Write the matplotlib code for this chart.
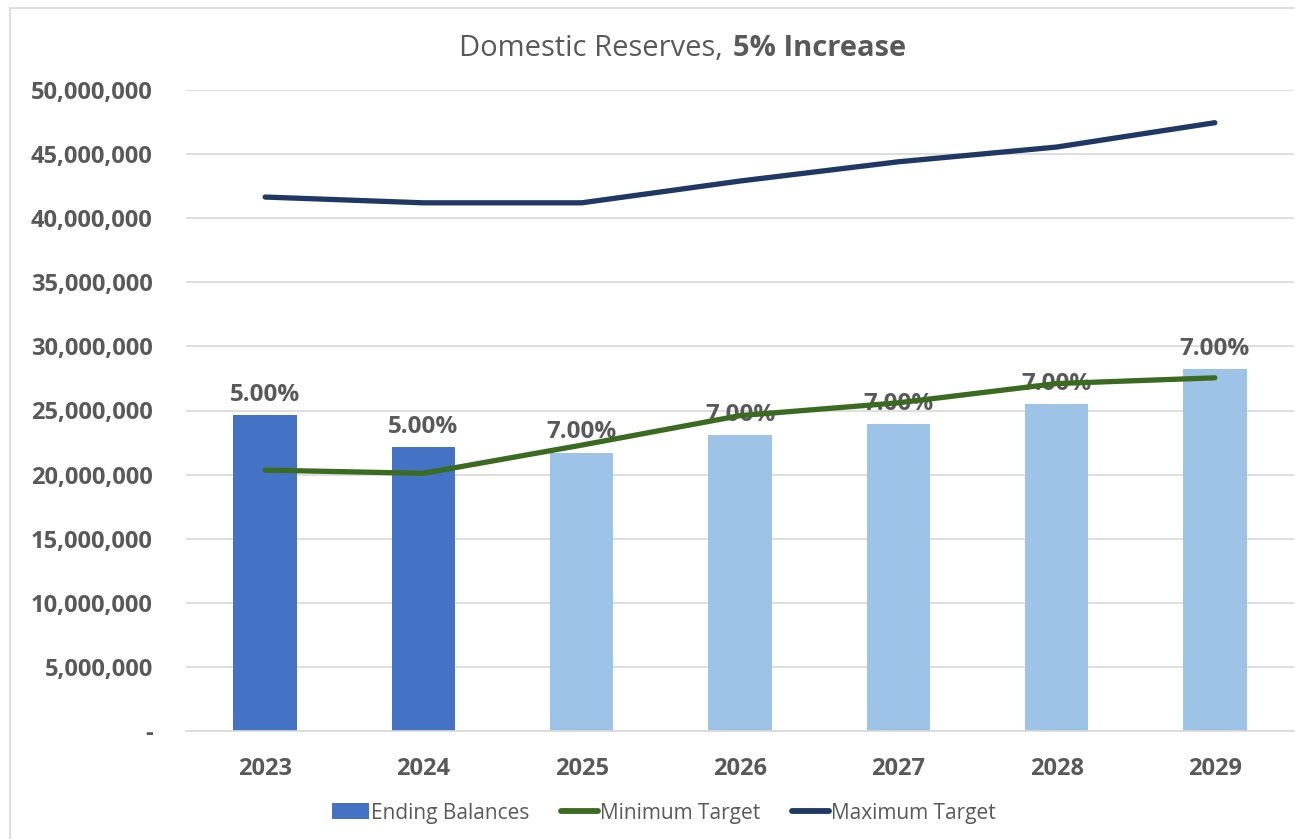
import numpy as np
import matplotlib.pyplot as plt
from matplotlib.ticker import FuncFormatter
from matplotlib.patches import Patch, Rectangle
from matplotlib.lines import Line2D

plt.rcParams['font.family'] = ['Open Sans', 'DejaVu Sans']

years = ['2023', '2024', '2025', '2026', '2027', '2028', '2029']
ending_balances = [24.65e6, 22.15e6, 21.7e6, 23.1e6, 23.95e6, 25.5e6, 28.2e6]
minimum_target = [20.35e6, 20.1e6, 22.3e6, 24.6e6, 25.6e6, 27.1e6, 27.55e6]
maximum_target = [41.65e6, 41.2e6, 41.2e6, 42.9e6, 44.4e6, 45.55e6, 47.45e6]
rate_labels = ['5.00%', '5.00%', '7.00%', '7.00%', '7.00%', '7.00%', '7.00%']
is_actual = [True, True, False, False, False, False, False]

c_dark = '#4472C4'
c_light = '#9DC3E6'
c_min = '#3B6B21'
c_max = '#1F3864'
c_text = '#595959'

fig = plt.figure(figsize=(12.95, 8.39), dpi=100)
fig.patch.set_facecolor('white')
# light chart-area border (cut off at right/bottom like the screenshot)
fig.patches.append(Rectangle((10/1295, -0.05), 1.2, 1 - 8/839 + 0.05,
                             transform=fig.transFigure, fill=False,
                             edgecolor='#d9d9d9', lw=1.2))

ax = fig.add_axes([186/1295, 108/839, 1108/1295, 641/839])
x = np.arange(len(years))
colors = [c_dark if a else c_light for a in is_actual]
ax.bar(x, ending_balances, width=0.4, color=colors, zorder=2)

for xi, v, lbl in zip(x, ending_balances, rate_labels):
    ax.annotate(lbl, (xi, v), xytext=(0, 6), textcoords='offset points',
                ha='center', va='bottom', fontsize=17.5, fontweight='bold',
                color=c_text, zorder=3)

ax.plot(x, minimum_target, color=c_min, lw=3.8, solid_capstyle='round', zorder=4)
ax.plot(x, maximum_target, color=c_max, lw=3.8, solid_capstyle='round', zorder=4)

ax.set_xlim(-0.5, len(years) - 0.5)
ax.set_ylim(0, 50e6)
ax.set_yticks(np.arange(0, 50e6 + 1, 5e6))
ax.yaxis.set_major_formatter(FuncFormatter(lambda v, p: '-' if v == 0 else f'{v:,.0f}'))
ax.set_xticks(x)
ax.set_xticklabels(years)
ax.tick_params(axis='both', length=0, labelsize=17, labelcolor=c_text)
ax.tick_params(axis='y', pad=24)
ax.tick_params(axis='x', pad=19)
for lbl in ax.get_xticklabels() + ax.get_yticklabels():
    lbl.set_fontweight('bold')

ax.grid(axis='y', color='#d9d9d9', lw=1.2, zorder=0)
ax.set_axisbelow(True)
for s in ['top', 'right', 'left']:
    ax.spines[s].set_visible(False)
ax.spines['bottom'].set_color('#d9d9d9')
ax.spines['bottom'].set_linewidth(1.2)

# title, mixed weight
fig.text(723/1295, 1 - 48/839, 'Domestic Reserves,', ha='right', va='center',
         fontsize=21, color=c_text)
fig.text(733/1295, 1 - 48/839, '5% Increase', ha='left', va='center',
         fontsize=21, fontweight='bold', color=c_text)

handles = [Patch(facecolor=c_dark, label='Ending Balances'),
           Line2D([0], [0], color=c_min, lw=4.2, solid_capstyle='round', label='Minimum Target'),
           Line2D([0], [0], color=c_max, lw=4.2, solid_capstyle='round', label='Maximum Target')]
leg = fig.legend(handles=handles, loc='center', bbox_to_anchor=(664/1295, 1 - 813/839),
                 ncol=3, frameon=False, fontsize=15, handlelength=1.75,
                 handleheight=0.8, handletextpad=0.1, columnspacing=1.55)
for t in leg.get_texts():
    t.set_color(c_text)

fig.savefig('out.png', dpi=100, facecolor='white')
